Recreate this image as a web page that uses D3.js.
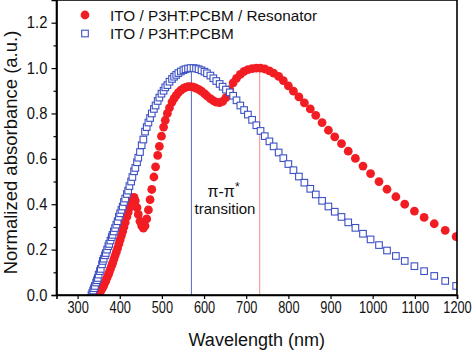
<!DOCTYPE html>
<html>
<head>
<meta charset="utf-8">
<script src="https://d3js.org/d3.v7.min.js"></script>
<style>
    body { margin: 0; background: #fff; }
    text { font-family: "Liberation Sans", Arial, sans-serif; }
</style>
</head>
<body>
<svg id="drawing_region"></svg>
<script>
// sample wavelengths (nm), shared by both curves
const wavelength = [
    333, 335, 337, 339, 341, 344, 346, 348, 350, 353,
    355, 358, 360, 362, 365, 367, 370, 373, 375, 378,
    381, 383, 386, 389, 392, 395, 398, 401, 404, 407,
    410, 413, 417, 420, 423, 427, 430, 434, 437, 441,
    444, 448, 452, 456, 460, 464, 468, 472, 476, 481,
    485, 490, 494, 499, 504, 508, 513, 518, 524, 529,
    534, 539, 545, 551, 556, 562, 568, 575, 581, 587,
    594, 601, 607, 615, 622, 629, 637, 644, 652, 661,
    669, 677, 686, 695, 704, 714, 724, 734, 744, 755,
    765, 777, 788, 800, 812, 825, 838, 852, 865, 880,
    895, 910, 926, 942, 959, 977, 995, 1015, 1034, 1055,
    1076, 1099, 1122, 1146, 1172, 1198
];

// ITO / P3HT:PCBM / Resonator
const resonator = [
    null, null, null, null, null, null, null, 0.0, 0.005, 0.012,
    0.018, 0.028, 0.035, 0.042, 0.055, 0.063, 0.077, 0.09, 0.10, 0.115,
    0.13, 0.14, 0.157, 0.174, 0.19, 0.207, 0.225, 0.243, 0.262, 0.28,
    0.30, 0.32, 0.345, 0.365, 0.385, 0.41, 0.428, 0.43, 0.415, 0.385,
    0.355, 0.325, 0.305, 0.295, 0.305, 0.335, 0.375, 0.42, 0.465, 0.52,
    0.565, 0.615, 0.655, 0.70, 0.74, 0.77, 0.80, 0.825, 0.85, 0.866,
    0.88, 0.892, 0.903, 0.91, 0.915, 0.918, 0.918, 0.916, 0.912, 0.906,
    0.898, 0.887, 0.877, 0.865, 0.856, 0.85, 0.848, 0.853, 0.87, 0.905,
    0.935, 0.955, 0.972, 0.985, 0.993, 0.998, 1.0, 1.0, 0.996, 0.988,
    0.978, 0.963, 0.945, 0.922, 0.898, 0.873, 0.847, 0.82, 0.792, 0.76,
    0.726, 0.697, 0.667, 0.634, 0.602, 0.568, 0.535, 0.50, 0.466, 0.433,
    0.40, 0.37, 0.342, 0.314, 0.285, 0.257
];

// ITO / P3HT:PCBM
const reference = [
    0.0, 0.01, 0.02, 0.03, 0.04, 0.055, 0.065, 0.075, 0.09, 0.105,
    0.115, 0.135, 0.15, 0.16, 0.175, 0.185, 0.20, 0.215, 0.225, 0.24,
    0.255, 0.265, 0.28, 0.295, 0.31, 0.325, 0.345, 0.36, 0.375, 0.39,
    0.41, 0.425, 0.445, 0.46, 0.48, 0.50, 0.52, 0.545, 0.56, 0.585,
    0.605, 0.63, 0.66, 0.685, 0.72, 0.74, 0.76, 0.78, 0.80, 0.82,
    0.835, 0.855, 0.87, 0.887, 0.90, 0.915, 0.925, 0.94, 0.952, 0.962,
    0.97, 0.978, 0.985, 0.991, 0.995, 0.998, 1.0, 1.0, 0.998, 0.995,
    0.99, 0.984, 0.977, 0.967, 0.955, 0.943, 0.93, 0.918, 0.905, 0.893,
    0.878, 0.858, 0.835, 0.815, 0.795, 0.772, 0.748, 0.723, 0.70, 0.677,
    0.655, 0.628, 0.603, 0.577, 0.55, 0.522, 0.495, 0.468, 0.443, 0.415,
    0.39, 0.367, 0.344, 0.32, 0.296, 0.27, 0.245, 0.22, 0.196, 0.172,
    0.15, 0.127, 0.105, 0.084, 0.062, 0.04
];

const legendLabels = ['ITO / P3HT:PCBM / Resonator', 'ITO / P3HT:PCBM'];
const xTicks = [300, 400, 500, 600, 700, 800, 900, 1000, 1100, 1200];
const yTicks = [0.0, 0.2, 0.4, 0.6, 0.8, 1.0, 1.2];
const yMinorTicks = [0.1, 0.3, 0.5, 0.7, 0.9, 1.1];
const peakLines = [570, 732];   // blue peak, red peak

class AbsorbancePlot {

    constructor( config ) {
        this.config = config;
        this.init();
    }

    init() {
        let self = this;
        const c = self.config;

        self.svg = d3.select( c.parent )
            .attr('width', c.width)
            .attr('height', c.height);

        self.inner_width = c.width - c.margin.left - c.margin.right;
        self.inner_height = c.height - c.margin.top - c.margin.bottom;

        self.chart = self.svg.append('g')
            .attr('transform', `translate(${c.margin.left}, ${c.margin.top})`);

        self.xscale = d3.scaleLinear()
            .domain( [250, 1200] )
            .range( [0, self.inner_width] );

        self.yscale = d3.scaleLinear()
            .domain( [0, 1.3] )
            .range( [self.inner_height, 0] );

        self.svg.append('defs').append('clipPath')
            .attr('id', 'plot_clip')
            .append('rect')
            .attr('width', self.inner_width)
            .attr('height', self.inner_height);
    }

    render() {
        let self = this;
        const x = self.xscale, y = self.yscale;
        const sq = 6.6, dot = 4.4;

        // peak marker lines
        self.chart.selectAll('.peak')
            .data(peakLines)
            .enter()
            .append('line')
            .attr('x1', d => x(d))
            .attr('x2', d => x(d))
            .attr('y1', y(0))
            .attr('y2', y(1.0))
            .attr('stroke', (d, i) => i == 0 ? '#5565d0' : '#f08a8a')
            .attr('stroke-width', 1);

        const marks = self.chart.append('g')
            .attr('clip-path', 'url(#plot_clip)');

        const red = wavelength.map( (w, i) => ({w: w, v: resonator[i]}) )
            .filter( d => d.v !== null );
        const blue = wavelength.map( (w, i) => ({w: w, v: reference[i]}) );

        marks.selectAll('circle')
            .data(red)
            .enter()
            .append('circle')
            .attr('cx', d => x(d.w))
            .attr('cy', d => y(d.v))
            .attr('r', dot)
            .attr('fill', '#f21d23');

        marks.selectAll('rect')
            .data(blue)
            .enter()
            .append('rect')
            .attr('x', d => x(d.w) - sq / 2)
            .attr('y', d => y(d.v) - sq / 2)
            .attr('width', sq)
            .attr('height', sq)
            .attr('fill', '#fff')
            .attr('stroke', '#3d50c3')
            .attr('stroke-width', 1.1);

        // frame
        self.chart.append('rect')
            .attr('width', self.inner_width)
            .attr('height', self.inner_height)
            .attr('fill', 'none')
            .attr('stroke', '#000')
            .attr('stroke-width', 1.6);

        // axes
        const xaxis = d3.axisBottom(x)
            .tickValues(xTicks)
            .tickSize(4)
            .tickPadding(3)
            .tickFormat(d3.format('d'));
        const xg = self.chart.append('g')
            .attr('transform', `translate(0, ${self.inner_height})`)
            .call(xaxis);
        xg.selectAll('text')
            .attr('font-size', '16px')
            .attr('fill', '#111')
            .attr('transform', 'scale(0.8,1)');

        const yaxis = d3.axisLeft(y)
            .tickValues(yTicks)
            .tickSize(5)
            .tickPadding(5)
            .tickFormat(d3.format('.1f'));
        const yg = self.chart.append('g').call(yaxis);
        yg.selectAll('text')
            .attr('font-size', '16px')
            .attr('fill', '#111')
            .attr('transform', 'scale(0.92,1)');

        const yminor = d3.axisLeft(y)
            .tickValues(yMinorTicks)
            .tickSize(3)
            .tickFormat('');
        self.chart.append('g').call(yminor).select('.domain').remove();

        self.chart.selectAll('.domain').attr('stroke-width', 1.6);
        self.chart.selectAll('.tick line').attr('stroke-width', 1.2);

        // axis titles
        self.chart.append('text')
            .attr('x', self.inner_width / 2)
            .attr('y', self.inner_height + 51)
            .attr('text-anchor', 'middle')
            .attr('font-size', '18px')
            .attr('fill', '#111')
            .text('Wavelength (nm)');

        self.chart.append('text')
            .attr('transform', `translate(-40, ${y(0.65) + 5}) rotate(-90)`)
            .attr('text-anchor', 'middle')
            .attr('font-size', '18.5px')
            .attr('fill', '#111')
            .text('Normalized absorbance (a.u.)');

        // annotation
        const ann = self.chart.append('text')
            .attr('x', 151)
            .attr('y', 197)
            .attr('font-family', '"Liberation Serif", "Times New Roman", serif')
            .attr('font-size', '16px')
            .attr('fill', '#111');
        ann.append('tspan').text('π-π');
        ann.append('tspan')
            .attr('dy', -6)
            .attr('font-size', '12px')
            .text('*');
        self.chart.append('text')
            .attr('x', 168.5)
            .attr('y', 214)
            .attr('text-anchor', 'middle')
            .attr('font-size', '15px')
            .attr('fill', '#111')
            .text('transition');

        // legend
        const legend = self.chart.append('g');
        legend.append('circle')
            .attr('cx', 28.5).attr('cy', 15)
            .attr('r', dot)
            .attr('fill', '#f21d23');
        legend.append('rect')
            .attr('x', 28.5 - sq / 2).attr('y', 33.5 - sq / 2)
            .attr('width', sq).attr('height', sq)
            .attr('fill', '#fff')
            .attr('stroke', '#3d50c3')
            .attr('stroke-width', 1.1);
        legend.selectAll('.lbl')
            .data(legendLabels)
            .enter()
            .append('text')
            .attr('x', 53.5)
            .attr('y', (d, i) => 20.5 + i * 18.5)
            .attr('font-size', '15.3px')
            .attr('fill', '#111')
            .text(d => d);
    }
}

const plot = new AbsorbancePlot({
    parent: '#drawing_region',
    width: 474,
    height: 352,
    margin: {top: 0, right: 17, bottom: 57, left: 56.5}
});
plot.render();
</script>
</body>
</html>
